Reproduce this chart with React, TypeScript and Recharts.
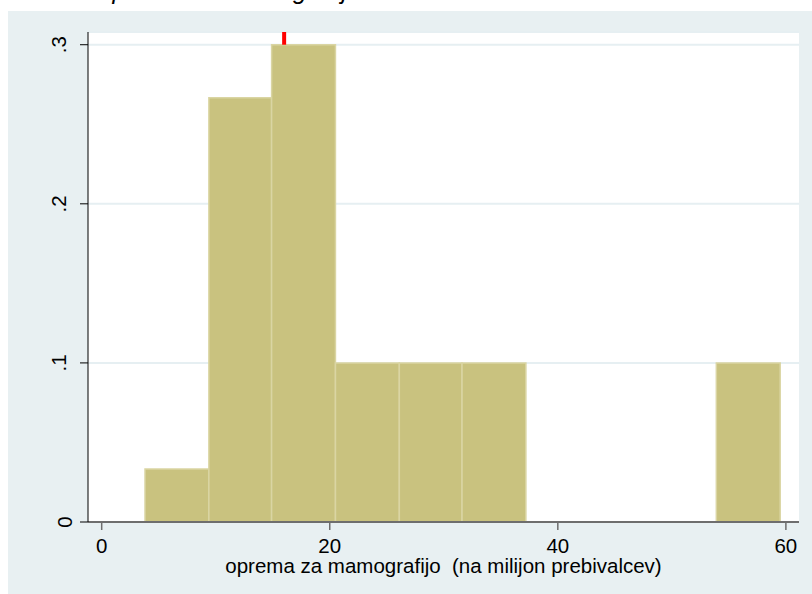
import React from "react";
import {
  ComposedChart,
  Line,
  XAxis,
  YAxis,
  CartesianGrid,
  ReferenceArea,
  ReferenceLine,
  Label,
} from "recharts";

// histogram bins (fraction of countries)
const binEdges = [3.8, 9.4, 14.9, 20.5, 26.1, 31.6, 37.2, 42.8, 48.4, 53.9, 59.5];
const binFractions = [0.0333, 0.2667, 0.3, 0.1, 0.1, 0.1, 0, 0, 0, 0.1];
const meanValue = 16.0;

const xTicks = [0, 20, 40, 60];
const yTicks = [0, 0.1, 0.2, 0.3];
const yTickLabels = ["0", ".1", ".2", ".3"];

const titleText = "Oprema za mamografijo";
const xTitle = "oprema za mamografijo  (na milijon prebivalcev)";

const bins = binFractions.map((f, i) => ({
  start: binEdges[i],
  end: binEdges[i + 1],
  mid: (binEdges[i] + binEdges[i + 1]) / 2,
  frac: f,
}));

const FONT = "'Liberation Sans', Arial, Helvetica, sans-serif";

function YTick(props: any) {
  const { x, y, payload } = props;
  const i = yTicks.indexOf(payload.value);
  const label = yTickLabels[i] ?? String(payload.value);
  // "0" sits closer to the axis than the dotted labels
  const bx = payload.value === 0 ? x - 6 : x - 12;
  return (
    <text
      x={bx}
      y={y}
      textAnchor="middle"
      transform={`rotate(-90, ${bx}, ${y})`}
      fontFamily={FONT}
      fontSize={20.5}
      fill="#000"
    >
      {label}
    </text>
  );
}

function XTick(props: any) {
  const { x, y, payload } = props;
  return (
    <text x={x} y={y + 21} textAnchor="middle" fontFamily={FONT} fontSize={20.5} fill="#000">
      {payload.value}
    </text>
  );
}

export default function App() {
  return (
    <div
      style={{
        position: "fixed",
        left: 0,
        top: 0,
        width: 812,
        height: 594,
        overflow: "hidden",
        background: "#fff",
      }}
    >
      <svg
        width={812}
        height={20}
        style={{ position: "absolute", left: 0, top: 0 }}
      >
        <text
          x={93}
          y={-1.5}
          fontFamily={FONT}
          fontStyle="italic"
          fontSize={25}
          fill="#000"
        >
          {titleText}
        </text>
      </svg>
      <div
        style={{
          position: "absolute",
          left: 8,
          top: 11,
          width: 810,
          height: 600,
          background: "#e8f0f2",
        }}
      />
      <div style={{ position: "absolute", left: 0, top: 0 }}>
        <ComposedChart
          width={812}
          height={594}
          data={bins}
          margin={{ top: 32, right: 13, bottom: 12, left: 0 }}
        >
          <CartesianGrid
            vertical={false}
            fill="#ffffff"
            stroke="#e6eff2"
            strokeWidth={2}
          />
          {bins
            .filter((b) => b.frac > 0)
            .map((b, i) => (
              <ReferenceArea
                key={i}
                x1={b.start}
                x2={b.end}
                y1={0}
                y2={b.frac}
                fill="#c9c27f"
                fillOpacity={1}
                stroke="#dad5a3"
                strokeWidth={1.5}
                strokeOpacity={1}
              />
            ))}
          <Line
            dataKey="frac"
            stroke="none"
            dot={false}
            activeDot={false}
            isAnimationActive={false}
          />
          <ReferenceLine
            segment={[
              { x: meanValue, y: 0.3 },
              { x: meanValue, y: 0.308 },
            ]}
            stroke="#ff0000"
            strokeWidth={4}
          />
          <XAxis
            dataKey="mid"
            type="number"
            domain={[-1.2, 61.15]}
            ticks={xTicks}
            height={60}
            tickSize={8}
            tickLine={{ stroke: "#6e6e6e", strokeWidth: 1.5 }}
            axisLine={{ stroke: "#6e6e6e", strokeWidth: 2 }}
            tick={<XTick />}
            interval={0}
          >
            <Label
              content={(p: any) => {
                const vb = p.viewBox;
                return (
                  <text
                    x={vb.x + vb.width / 2}
                    y={vb.y + 51}
                    textAnchor="middle"
                    fontFamily={FONT}
                    fontSize={20.5}
                    fill="#000"
                    style={{ whiteSpace: "pre" }}
                  >
                    {xTitle}
                  </text>
                );
              }}
            />
          </XAxis>
          <YAxis
            type="number"
            domain={[0, 0.308]}
            ticks={yTicks}
            width={88}
            tickSize={8}
            tickLine={{ stroke: "#000", strokeWidth: 1 }}
            axisLine={{ stroke: "#000", strokeWidth: 1 }}
            tick={<YTick />}
            interval={0}
          />
        </ComposedChart>
      </div>
    </div>
  );
}
